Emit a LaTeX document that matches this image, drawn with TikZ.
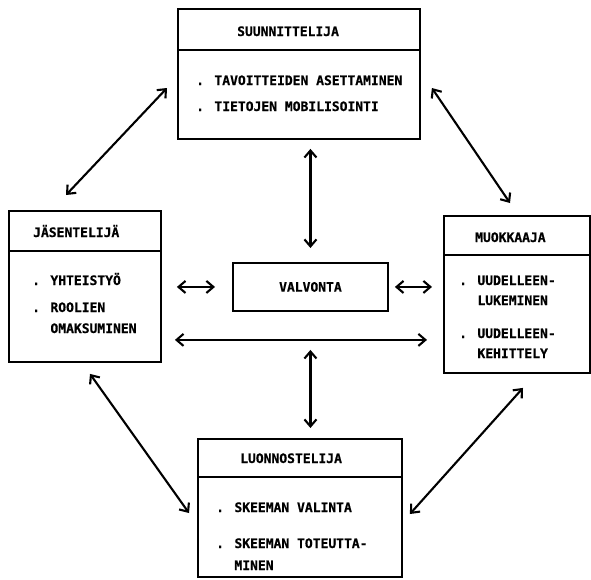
\documentclass[tikz,border=0pt]{standalone}
\usepackage{fontspec}
\newfontfamily\printfont{DejaVu Sans Mono}[BoldFeatures={FakeBold=0.6}]
\usetikzlibrary{arrows.meta,calc}

\tikzset{
  rolebox/.style={rectangle, draw, line width=1.9pt, anchor=north west, inner sep=0pt},
  rule/.style={line width=1.9pt},
  txt/.style={anchor=base west, inner sep=0pt, align=left,
    font=\printfont\bfseries\fontsize{13}{21}\selectfont},
  both/.style={{Straight Barb[length=7pt,width=12pt]}-{Straight Barb[length=7pt,width=12pt]},
    line width=2.1pt}
}

\begin{document}
\begin{tikzpicture}[x=1pt,y=-1pt]
  \useasboundingbox (0,0) rectangle (591,579);

  % Boxes
  \node (suun) at (177,8) [rolebox, minimum width=242pt, minimum height=130pt] {};
  \node (jas) at (8,210) [rolebox, minimum width=152pt, minimum height=151pt] {};
  \node (muok) at (443,215) [rolebox, minimum width=146pt, minimum height=157pt] {};
  \node (luon) at (197,438) [rolebox, minimum width=204pt, minimum height=138pt] {};
  \node (valv) at (232,262) [rolebox, minimum width=155pt, minimum height=48pt,
    font=\printfont\bfseries\fontsize{13}{21}\selectfont] {VALVONTA};

  % Dividers
  \draw[rule] (suun.west |- 0,50) -- (suun.east |- 0,50);
  \draw[rule] (jas.west |- 0,251) -- (jas.east |- 0,251);
  \draw[rule] (muok.west |- 0,255) -- (muok.east |- 0,255);
  \draw[rule] (luon.west |- 0,477) -- (luon.east |- 0,477);

  % Texts (two-line nodes sit on their last line)
  \node (suunT) at (237,36) [txt] {SUUNNITTELIJA};
  \node (suunA) at (196,85) [txt] {. TAVOITTEIDEN ASETTAMINEN};
  \node (suunB) at (196,111) [txt] {. TIETOJEN MOBILISOINTI};

  \node (jasT) at (33,237) [txt] {JÄSENTELIJÄ};
  \node (jasA) at (32,285) [txt] {. YHTEISTYÖ};
  \node (jasB) at (32,333) [txt] {. ROOLIEN\\\phantom{. }OMAKSUMINEN};

  \node (muokT) at (475,242) [txt] {MUOKKAAJA};
  \node (muokA) at (459,305) [txt] {. UUDELLEEN-\\[-1pt]\phantom{. }LUKEMINEN};
  \node (muokB) at (459,358) [txt] {. UUDELLEEN-\\[-1pt]\phantom{. }KEHITTELY};

  \node (luonT) at (240,463) [txt] {LUONNOSTELIJA};
  \node (luonA) at (216,512) [txt] {. SKEEMAN VALINTA};
  \node (luonB) at (216,570) [txt] {. SKEEMAN TOTEUTTA-\\[1pt]\phantom{. }MINEN};

  % Edges
  \draw[both] ($(suun.north west)+(-10,80)$) -- ($(jas.north west)+(58,-15)$);
  \draw[both] ($(suun.north east)+(11,80)$) -- ($(muok.north west)+(67,-12)$);
  \draw[both] ($(jas.south west)+(82,11)$) -- ($(luon.north west)+(-8,75)$);
  \draw[both] ($(muok.south west)+(80,14)$) -- ($(luon.north east)+(7,76)$);

  \draw[both] ([yshift=-9pt]suun.south -| valv.north) -- ([yshift=14pt]valv.north);
  \draw[both] ([yshift=-38pt]valv.south) -- ([yshift=10pt]luon.north -| valv.south);
  \draw[both] ($(jas.east |- valv.west)+(15,0)$) -- ([xshift=-17pt]valv.west);
  \draw[both] ([xshift=6pt]valv.east) -- ($(muok.west |- valv.east)+(-11,0)$);
  \draw[both] ($(jas.east |- valv.south)+(13,28)$) -- ($(muok.west |- valv.south)+(-16,28)$);
\end{tikzpicture}
\end{document}
